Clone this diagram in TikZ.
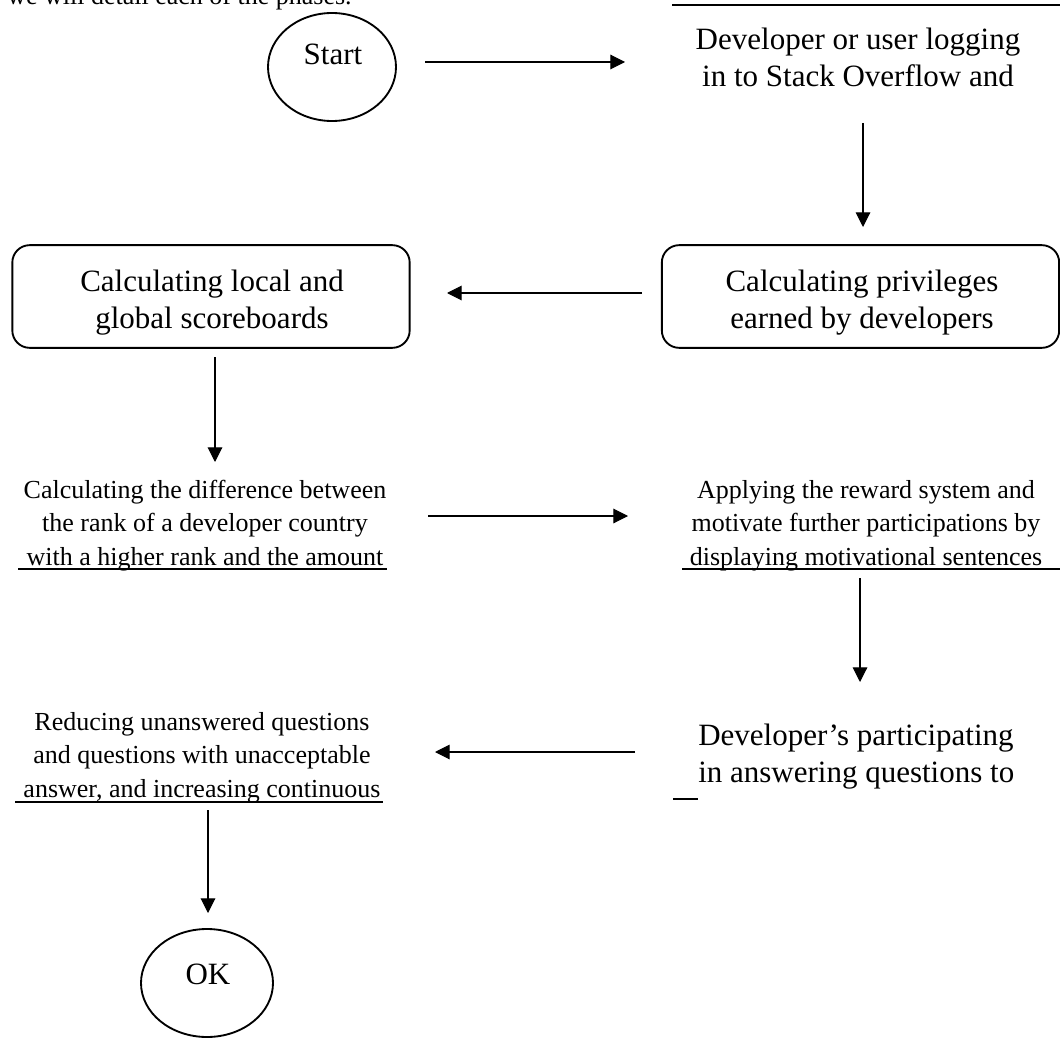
\documentclass[tikz,border=0pt]{standalone}
\usepackage{fontspec}
\setmainfont{Liberation Serif}
\usetikzlibrary{arrows.meta,shapes.geometric}
\begin{document}
\begin{tikzpicture}[x=0.75pt,y=-0.75pt,
  arr/.style={line width=0.8pt,-{Triangle[length=11pt,width=11pt]}},
  shapeline/.style={line width=1.4pt},
  uline/.style={line width=1.5pt},
  term/.style={shapeline,draw,ellipse,inner sep=0pt},
  rbox/.style={shapeline,draw,rounded corners=13pt,inner sep=0pt,minimum width=298pt,minimum height=77pt},
  bigtxt/.style={font=\fontsize{23.25pt}{27.75pt}\selectfont,align=center,inner sep=0pt},
  smalltxt/.style={font=\fontsize{19.5pt}{25pt}\selectfont,align=center,inner sep=0pt}
]
\useasboundingbox (0,0) rectangle (1060,1038);

% intro text clipped at the top, as in the source page
\node[smalltxt,anchor=base west] (intro) at (7,5) {we will detail each of the phases.};
\coordinate (tl1) at (672,5);
\coordinate (tl2) at (1062,5);
\draw[uline] (tl1) -- (tl2);

% Start
\node[term,minimum width=96pt,minimum height=81pt] (start) at (332,67) {};
\node[bigtxt,anchor=base] (startlbl) at (333,65) {Start};

% login (base = last line)
\node[bigtxt,anchor=base] (login) at (858,87) {Developer or user logging\\in to Stack Overflow and};

% privileges box
\node[rbox] (priv) at (860.5,296.5) {};
\node[bigtxt,anchor=base] (privtxt) at (862,328) {Calculating privileges\\earned by developers};

% global box
\node[rbox] (glob) at (211,296.5) {};
\node[bigtxt,anchor=base] (globtxt) at (212,328) {Calculating local and\\global scoreboards};

% difference text
\node[smalltxt,anchor=base] (diff) at (205,565) {Calculating the difference between\\the rank of a developer country\\with a higher rank and the amount};
\coordinate (du1) at (18,569);
\coordinate (du2) at (387,569);
\draw[uline] (du1) -- (du2);

% apply text
\node[smalltxt,anchor=base] (apply) at (866,565) {Applying the reward system and\\motivate further participations by\\displaying motivational sentences};
\coordinate (au1) at (682,569);
\coordinate (au2) at (1062,569);
\draw[uline] (au1) -- (au2);

% developer participating
\node[bigtxt,anchor=base west,align=left] (part) at (698,782) {Developer's participating\\in answering questions to};
\coordinate (pu1) at (673,799);
\coordinate (pu2) at (698,799);
\draw[uline] (pu1) -- (pu2);

% reducing
\node[smalltxt,anchor=base] (reduce) at (202,797) {Reducing unanswered questions\\and questions with unacceptable\\answer, and increasing continuous};
\coordinate (ru1) at (15,802);
\coordinate (ru2) at (383,802);
\draw[uline] (ru1) -- (ru2);

% OK
\node[term,minimum width=99pt,minimum height=81pt] (ok) at (207,983) {};
\node[bigtxt,anchor=base] (oklbl) at (208,984) {OK};

% connectors
\coordinate (a1s) at (425,62);  \coordinate (a1e) at (625,62);
\coordinate (a2s) at (863,123); \coordinate (a2e) at (863,227);
\coordinate (a3s) at (642,293); \coordinate (a3e) at (447,293);
\coordinate (a4s) at (215,357); \coordinate (a4e) at (215,462);
\coordinate (a5s) at (428,516); \coordinate (a5e) at (628,516);
\coordinate (a6s) at (860,578); \coordinate (a6e) at (860,682);
\coordinate (a7s) at (635,752); \coordinate (a7e) at (435,752);
\coordinate (a8s) at (208,810); \coordinate (a8e) at (208,913);
\draw[arr] (a1s) -- (a1e);
\draw[arr] (a2s) -- (a2e);
\draw[arr] (a3s) -- (a3e);
\draw[arr] (a4s) -- (a4e);
\draw[arr] (a5s) -- (a5e);
\draw[arr] (a6s) -- (a6e);
\draw[arr] (a7s) -- (a7e);
\draw[arr] (a8s) -- (a8e);
\end{tikzpicture}
\end{document}
